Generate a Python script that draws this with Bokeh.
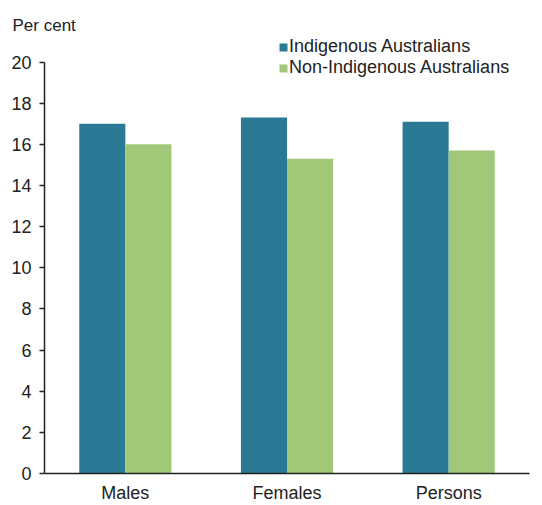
from bokeh.plotting import figure
from bokeh.models import ColumnDataSource, FactorRange, Range1d, Legend, LegendItem
from bokeh.transform import dodge
from bokeh.embed import file_html
from bokeh.resources import INLINE

categories = ["Males", "Females", "Persons"]
indigenous = [17.0, 17.3, 17.1]
non_indigenous = [16.0, 15.3, 15.7]
y_ticks = [0, 2, 4, 6, 8, 10, 12, 14, 16, 18, 20]
series_names = ["Indigenous Australians", "Non-Indigenous Australians"]

FONT = "Liberation Sans"
FS = "18px"
TEAL = "#2A7A95"
GREEN = "#A0C878"

src = ColumnDataSource(dict(cat=categories, ind=indigenous, non=non_indigenous))

p = figure(width=542, height=505, x_range=FactorRange(factors=categories, range_padding=0),
           y_range=Range1d(0, 21.29), output_backend="svg", toolbar_location=None,
           min_border_left=44, min_border_right=13, min_border_top=35, min_border_bottom=30,
           title="Per cent")
p.title.text_font = FONT
p.title.text_font_size = "17px"
p.title.text_font_style = "normal"
p.title.text_color = "#222222"
p.title.align = "left"
p.title.offset = -32
p.title.standoff = 2

r1 = p.vbar(x=dodge("cat", -0.1425, range=p.x_range), top="ind", width=0.285, source=src,
            fill_color=TEAL, line_color=None)
r2 = p.vbar(x=dodge("cat", 0.1425, range=p.x_range), top="non", width=0.285, source=src,
            fill_color=GREEN, line_color=None)

p.xgrid.visible = False
p.ygrid.visible = False
p.outline_line_color = None

p.yaxis.bounds = (0, 20)
p.yaxis.ticker = y_ticks
p.yaxis.major_tick_out = 5
p.yaxis.major_tick_in = 0
p.yaxis.minor_tick_line_color = None
p.yaxis.major_label_standoff = 8
p.yaxis.axis_line_color = "#222222"
p.yaxis.axis_line_width = 1.5
p.yaxis.major_tick_line_color = "#222222"
p.yaxis.major_tick_line_width = 1.5

p.xaxis.major_tick_line_color = None
p.xaxis.minor_tick_line_color = None
p.xaxis.major_tick_out = 0
p.xaxis.major_label_standoff = 9
p.xaxis.axis_line_color = "#222222"
p.xaxis.axis_line_width = 1.5

for ax in (p.xaxis[0], p.yaxis[0]):
    ax.major_label_text_font = FONT
    ax.major_label_text_font_size = FS
    ax.major_label_text_color = "#222222"

legend = Legend(items=[LegendItem(label=series_names[0], renderers=[r1]),
                       LegendItem(label=series_names[1], renderers=[r2])],
                location=(234, 395), orientation="vertical")
legend.label_text_font = FONT
legend.label_text_font_size = FS
legend.label_text_color = "#222222"
legend.glyph_width = 10
legend.glyph_height = 10
legend.label_height = 21
legend.label_standoff = 1
legend.spacing = 0
legend.padding = 0
legend.margin = 0
legend.border_line_color = None
legend.background_fill_alpha = 0
p.add_layout(legend)

open("out.html", "w").write(file_html(p, INLINE))
